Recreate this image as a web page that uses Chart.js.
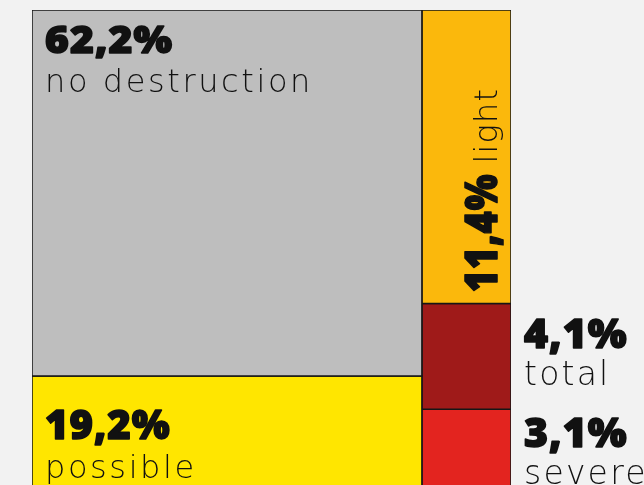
<!doctype html>
<html lang="en">
<head>
<meta charset="utf-8">
<title>Destruction</title>
<script src="https://cdn.jsdelivr.net/npm/chart.js@4.4.0/dist/chart.umd.min.js"></script>
<style>
  html, body { margin: 0; padding: 0; background: #f2f2f2; overflow: hidden; }
  #wrap { position: relative; width: 644px; height: 492px; }
</style>
</head>
<body>
<div id="wrap"><canvas id="chart"></canvas></div>
<script>
// data
const categories = ['no destruction', 'possible', 'light', 'total', 'severe'];
const shares = [62.2, 19.2, 11.4, 4.1, 3.1];
const columns = [0, 0, 1, 1, 1];
const valueLabels = ['62,2%', '19,2%', '11,4%', '4,1%', '3,1%'];

const palette = ['#bebebe', '#ffe600', '#fbb80c', '#9f1a19', '#e3241f'];

// simple two column treemap: column width from column total, height from share in column
const colTotals = [0, 0];
shares.forEach((v, i) => colTotals[columns[i]] += v);
const grand = colTotals[0] + colTotals[1];
const colStart = [0, colTotals[0] / grand * 100];
const used = [0, 0];
const rects = shares.map((v, i) => {
  const c = columns[i];
  const xa = colStart[c], xb = xa + colTotals[c] / grand * 100;
  const ya = used[c] / colTotals[c] * 100;
  used[c] += v;
  const yb = used[c] / colTotals[c] * 100;
  return { xa, xb, ya, yb };
});

const datasets = rects.map((r, i) => ({
  label: categories[i],
  data: [
    { x: r.xa, y: r.ya }, { x: r.xb, y: r.ya }, { x: r.xb, y: r.yb },
    { x: r.xa, y: r.yb }, { x: r.xa, y: r.ya }
  ],
  fill: 'shape',
  backgroundColor: palette[i],
  borderColor: '#161616',
  borderWidth: 1.5,
  borderJoinStyle: 'miter',
  borderCapStyle: 'square',
  pointRadius: 0,
  tension: 0
}));

// heavy number, stretched a bit to get closer to a wide black face
function boldText(ctx, txt, x, y, size, stretch) {
  ctx.save();
  ctx.translate(x, y);
  ctx.scale(stretch, 1);
  ctx.font = '900 ' + size + 'px "Noto Sans"';
  ctx.letterSpacing = '1px';
  ctx.lineWidth = 1.6;
  ctx.lineJoin = 'round';
  ctx.strokeStyle = '#111';
  ctx.strokeText(txt, 0, 0);
  ctx.fillText(txt, 0, 0);
  const w = ctx.measureText(txt).width * stretch;
  ctx.restore();
  return w;
}

function lightText(ctx, txt, x, y, size, spacing) {
  ctx.font = '200 ' + size + 'px "DejaVu Sans"';
  ctx.letterSpacing = spacing + 'px';
  ctx.fillText(txt, x, y);
}

const labelPlugin = {
  id: 'labels',
  afterDatasetsDraw(chart) {
    const ctx = chart.ctx;
    const sx = chart.scales.x, sy = chart.scales.y;
    ctx.save();
    ctx.fillStyle = '#111';
    ctx.textBaseline = 'alphabetic';
    ctx.textAlign = 'left';
    rects.forEach((r, i) => {
      const left = sx.getPixelForValue(r.xa);
      const right = sx.getPixelForValue(r.xb);
      const top = sy.getPixelForValue(r.ya);
      const bottom = sy.getPixelForValue(r.yb);
      const w = right - left;
      if (w > 150) {
        // big box: label inside, top left
        const off = i === 0 ? 43 : 63;
        boldText(ctx, valueLabels[i], left + 13, top + off, i === 0 ? 37 : 40, i === 0 ? 1.1 : 1);
        lightText(ctx, categories[i], left + 13, top + off + 39, 32, 2.6);
      } else if (bottom - top > 200) {
        // tall narrow box: rotated label
        ctx.save();
        ctx.translate(right - 14, top + 282);
        ctx.rotate(-Math.PI / 2);
        const bw = boldText(ctx, valueLabels[i], 0, 0, 44, 0.86);
        lightText(ctx, categories[i], bw + 10, 0, 32, 1.2);
        ctx.restore();
      } else {
        // small box: label outside on the right
        const off = i === 3 ? 44 : 38;
        boldText(ctx, valueLabels[i], right + 13, top + off, 41, 1);
        lightText(ctx, categories[i], right + 13, top + off + 37, 33, 2.2);
      }
    });
    ctx.restore();
  }
};

new Chart(document.getElementById('chart'), {
  type: 'line',
  data: { datasets },
  options: {
    responsive: true,
    maintainAspectRatio: false,
    animation: false,
    events: [],
    layout: { padding: { left: 32, right: 133, top: 10, bottom: 3 } },
    scales: {
      x: { type: 'linear', min: 0, max: 100, display: false },
      y: { type: 'linear', min: 0, max: 100, reverse: true, display: false }
    },
    plugins: { legend: { display: false }, tooltip: { enabled: false } }
  },
  plugins: [labelPlugin]
});
</script>
</body>
</html>
